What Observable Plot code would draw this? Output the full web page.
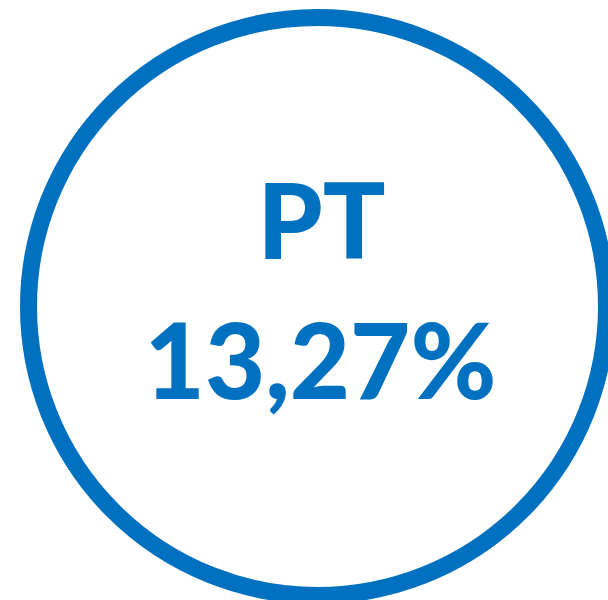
<!DOCTYPE html>
<html>
<head>
<meta charset="utf-8">
<script src="https://cdn.jsdelivr.net/npm/d3@7"></script>
<script src="https://cdn.jsdelivr.net/npm/@observablehq/plot@0.6"></script>
<style>
  html, body { margin: 0; padding: 0; background: #fff; }
</style>
</head>
<body>
<div id="chart"></div>
<script>
const labels = ["PT"];
const values = [13.27];
const color = "#0070C0";

const rows = labels.map((l, i) => ({label: l, value: values[i]}));
const fmt = v => v.toFixed(2).replace(".", ",") + "%";

const chart = Plot.plot({
  width: 608,
  height: 600,
  marginLeft: 26,
  marginRight: 0,
  marginTop: 12,
  marginBottom: 0,
  x: {axis: null},
  y: {axis: null},
  marks: [
    Plot.dot(rows, {frameAnchor: "middle", r: 289, stroke: color, strokeWidth: 17, fill: "none"}),
    Plot.text(rows, {frameAnchor: "middle", text: "label", fill: color, fontSize: 104, fontWeight: 900, fontFamily: "Lato", dx: 4, dy: -81}),
    Plot.text(rows, {frameAnchor: "middle", text: d => fmt(d.value), fill: color, fontSize: 104, fontWeight: 900, fontFamily: "Lato", dx: 3, dy: 59})
  ]
});
document.getElementById("chart").appendChild(chart);
</script>
</body>
</html>
